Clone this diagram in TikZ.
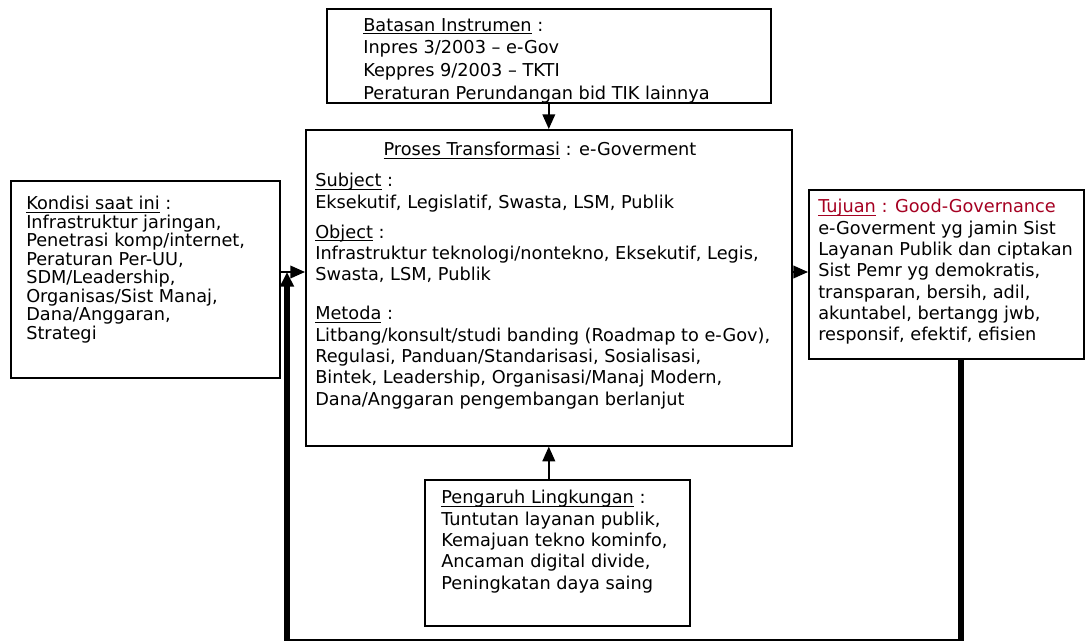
\documentclass[tikz,border=0pt]{standalone}
\usepackage{fontspec}
\setmainfont{DejaVu Sans}
\usepackage{xcolor}
\usetikzlibrary{arrows.meta, positioning}

\definecolor{goalred}{RGB}{165,0,33}
\newlength{\ulwd}
\newcommand{\ulword}[1]{\settowidth{\ulwd}{#1}\rlap{\smash{\rule[-2.4pt]{\ulwd}{0.75pt}}}#1}

\begin{document}
\begin{tikzpicture}[x=0.75pt, y=-0.75pt,
  box/.style={draw, rectangle, line width=1.2pt, anchor=north west, inner sep=0pt},
  txt/.style={anchor=north west, inner sep=0pt, align=left, font=\fontsize{13.3}{16}\selectfont},
  arrow/.style={-{Triangle[length=11pt, width=9.5pt]}, line width=1.2pt},
  feedback/.style={line width=3.8pt, line join=miter, -{Triangle[length=11pt, width=10pt]}}
]
\useasboundingbox (0,0) rectangle (1092,640);

% Boxes
\node[box, minimum width=333pt, minimum height=70.5pt] (batasan) at (326,8) {};
\node[box, minimum width=364.5pt, minimum height=237pt] (proses) at (305,129) {};
\node[box, minimum width=201.75pt, minimum height=147.75pt] (kondisi) at (10,180) {};
\node[box, minimum width=206.25pt, minimum height=126.75pt] (tujuan) at (808,189) {};
\node[box, minimum width=198.75pt, minimum height=109.5pt] (pengaruh) at (424,479) {};

% Texts
\node[txt, font=\fontsize{13.3}{17}\selectfont] (batasanText) at (363,18)
  {\ulword{Batasan Instrumen} :\\
   Inpres 3/2003 -- e-Gov\\
   Keppres 9/2003 -- TKTI\\
   Peraturan Perundangan bid TIK lainnya};

\node[txt, anchor=center] (prosesTitle) at (540,149)
  {\ulword{Proses Transformasi} : e-Goverment};
\node[txt] (prosesText) at (315,173)
  {\ulword{Subject} :\\
   Eksekutif, Legislatif, Swasta, LSM, Publik\\[6.5pt]
   \ulword{Object} :\\
   Infrastruktur teknologi/nontekno, Eksekutif, Legis,\\
   Swasta, LSM, Publik\\[13.3pt]
   \ulword{Metoda} :\\
   Litbang/konsult/studi banding (Roadmap to e-Gov),\\
   Regulasi, Panduan/Standarisasi, Sosialisasi,\\
   Bintek, Leadership, Organisasi/Manaj Modern,\\
   Dana/Anggaran pengembangan berlanjut};

\node[txt, font=\fontsize{13.3}{13.9}\selectfont] (kondisiText) at (26,196)
  {\ulword{Kondisi saat ini} :\\
   Infrastruktur jaringan,\\
   Penetrasi komp/internet,\\
   Peraturan Per-UU,\\
   SDM/Leadership,\\
   Organisas/Sist Manaj,\\
   Dana/Anggaran,\\
   Strategi};

\node[txt] (tujuanText) at (818,199)
  {\textcolor{goalred}{\ulword{Tujuan} : Good-Governance}\\
   e-Goverment yg jamin Sist\\
   Layanan Publik dan ciptakan\\
   Sist Pemr yg demokratis,\\
   transparan, bersih, adil,\\
   akuntabel, bertangg jwb,\\
   responsif, efektif, efisien};

\node[txt] (pengaruhText) at (441,490)
  {\ulword{Pengaruh Lingkungan} :\\
   Tuntutan layanan publik,\\
   Kemajuan tekno kominfo,\\
   Ancaman digital divide,\\
   Peningkatan daya saing};

% Connectors
\coordinate (mid) at (0,272);
\coordinate (loopR) at (961,641.5);
\coordinate (loopL) at (287,641.5);
\draw[arrow] (batasan.south) -- (proses.north);
\draw[arrow] (proses.south |- pengaruh.north) -- (proses.south);
\draw[arrow] (kondisi.east |- mid) -- (proses.west |- mid);
\draw[arrow] (proses.east |- mid) -- (tujuan.west |- mid);
\draw[feedback] (tujuan.south -| loopR) -- (loopR) -- (loopL) -- (loopL |- mid);

\end{tikzpicture}
\end{document}
